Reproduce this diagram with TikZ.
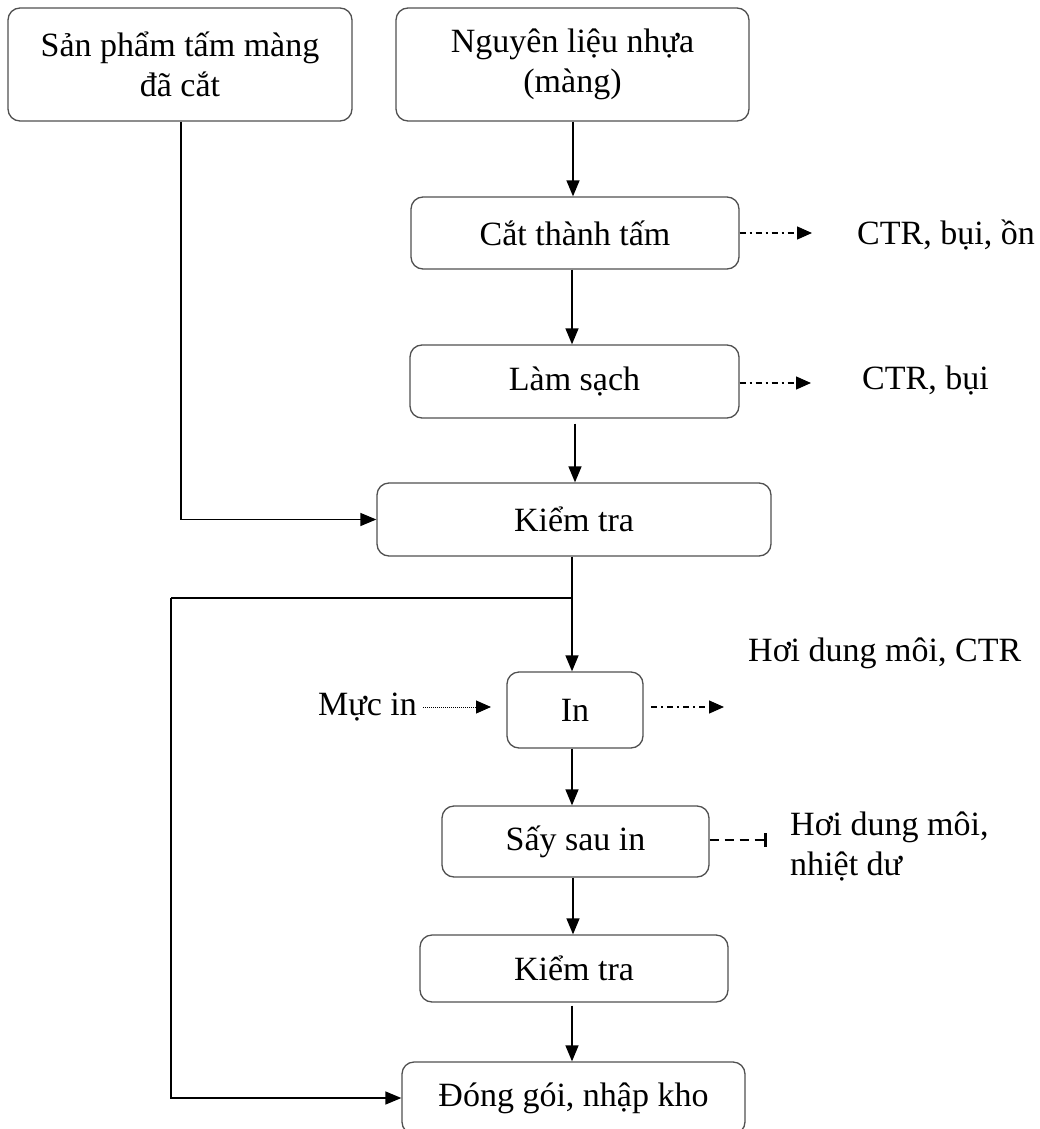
\documentclass[tikz,border=0pt]{standalone}
\usepackage{fontspec}
\setmainfont{Liberation Serif}
\usetikzlibrary{arrows.meta}
\definecolor{boxline}{HTML}{505050}
\tikzset{
  pbox/.style={draw=boxline, line width=1.3pt, rounded corners=12pt, rectangle,
    inner sep=0pt, align=center, font=\fontsize{34}{40}\selectfont},
  lbl/.style={inner sep=0pt, font=\fontsize{34}{40}\selectfont},
  flow/.style={line width=1.4pt, -{Triangle[length=16pt,width=13pt]}},
  plain/.style={line width=1.4pt},
  dashdot/.style={line width=1.3pt, dash pattern=on 6pt off 4pt on 2pt off 4pt,
    -{Triangle[length=15pt,width=13pt]}},
  dotline/.style={line width=1pt, dash pattern=on 1pt off 1pt,
    -{Triangle[length=15pt,width=13pt]}},
  dashline/.style={line width=2pt, dash pattern=on 9pt off 6pt,
    -{Bar[width=14pt,line width=3pt]}}
}
\begin{document}
\begin{tikzpicture}[x=1pt,y=1pt]
\useasboundingbox (0,0) rectangle (1040,-1129);

\node[pbox, minimum width=344pt, minimum height=113pt] (b1) at (180,-64.5) {Sản phẩm tấm màng\\đã cắt};
\node[pbox, minimum width=353pt, minimum height=113pt] (b2) at (572.5,-64.5) {Nguyên liệu nhựa\\(màng)};
\node[pbox, minimum width=328pt, minimum height=72pt] (cat) at (575,-233) {Cắt thành tấm};
\node[pbox, minimum width=329pt, minimum height=73pt] (lam) at (574.5,-381.5) {Làm sạch};
\node[pbox, minimum width=394pt, minimum height=73pt] (kt1) at (574,-519.5) {Kiểm tra};
\node[pbox, minimum width=136pt, minimum height=76pt] (in) at (575,-710) {In};
\node[pbox, minimum width=267pt, minimum height=71pt] (say) at (575.5,-841.5) {Sấy sau in};
\node[pbox, minimum width=308pt, minimum height=67pt] (kt2) at (574,-968.5) {Kiểm tra};
\node[pbox, minimum width=343pt, minimum height=72pt] (dong) at (573.5,-1098) {Đóng gói, nhập kho};

\node[lbl, anchor=west] (ctr1) at (857,-235) {CTR, bụi, ồn};
\node[lbl, anchor=west] (ctr2) at (862,-381) {CTR, bụi};
\node[lbl, anchor=west] (hoi1) at (748,-653) {Hơi dung môi, CTR};
\node[lbl, anchor=east] (muc) at (417,-707) {Mực in};
\node[lbl, anchor=west, align=left] (hoi2) at (790,-846) {Hơi dung môi,\\nhiệt dư};

\coordinate (j) at (572,-598);
\coordinate (lc) at (171,-598);
\coordinate (t1) at (812,-233);
\coordinate (t2) at (811,-383);
\coordinate (s3) at (651,-707);
\coordinate (t3) at (724,-707);
\coordinate (s4) at (423,-707);
\coordinate (t4) at (491,-707);
\coordinate (t5) at (767,-840);

% main flow
\draw[flow] (b2.south -| 573,0) -- (cat.north -| 573,0);
\draw[flow] (cat.south -| 572,0) -- (lam.north -| 572,0);
\draw[flow] ([yshift=-5pt]lam.south -| 575,0) -- (kt1.north -| 575,0);
\draw[plain] (kt1.south -| j) -- (j);
\draw[flow] (j) -- (in.north -| j);
\draw[flow] (in.south -| 572,0) -- (say.north -| 572,0);
\draw[flow] (say.south -| 573,0) -- (kt2.north -| 573,0);
\draw[flow] ([yshift=-3pt]kt2.south -| 572,0) -- (dong.north -| 572,0);

% side branches
\draw[flow] (b1.south -| 181,0) -- (kt1.west -| 181,0) -- (kt1.west);
\draw[plain] (j) -- (lc);
\draw[flow] (lc) -- (lc |- dong.west) -- (dong.west);

% emissions and inputs
\draw[dashdot] (cat.east |- t1) -- (t1);
\draw[dashdot] (lam.east |- t2) -- (t2);
\draw[dashdot] (s3) -- (t3);
\draw[dotline] (s4) -- (t4);
\draw[dashline] (say.east |- t5) -- (t5);
\end{tikzpicture}
\end{document}
